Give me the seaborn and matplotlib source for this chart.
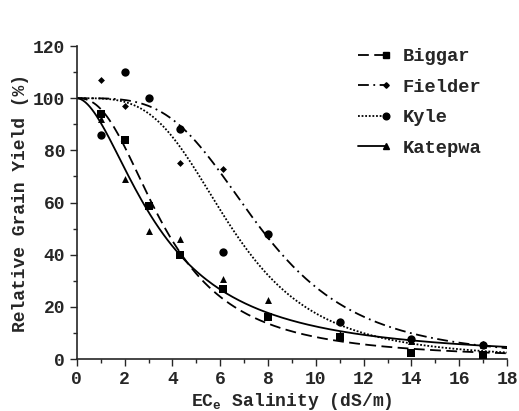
import matplotlib
matplotlib.use('Agg')
import matplotlib.pyplot as plt
from matplotlib.legend_handler import HandlerLine2D
from matplotlib.ticker import MultipleLocator
import numpy as np
import pandas as pd
import seaborn as sns

# measured points (ECe, relative yield %)
salinity = [1, 2, 3, 4.3, 6.1, 8, 11, 14, 17]
biggar = [94, 84, 58.5, 40, 27, 16, 8.5, 2.2, 1.5]
fielder = [107, 97, np.nan, 75, 73, 47, 14, 7.5, 5.7]
kyle = [86, 110, 100, 88, 41, 48, 14, 7.5, 5.5]
katepwa = [92, 69, 49, 46, 30.5, 22.5, 9.5, 7, 5.5]

cultivars = ['Biggar', 'Fielder', 'Kyle', 'Katepwa']
# fitted response curve parameters: y = 100 / (1 + (x / c50) ** p)
c50 = [3.7, 7.7, 6.5, 3.45]
slope = [2.4, 3.7, 3.6, 1.83]

markers = {'Biggar': 's', 'Fielder': 'D', 'Kyle': 'o', 'Katepwa': '^'}
marker_sizes = {'Biggar': 5.5, 'Fielder': 3.5, 'Kyle': 6, 'Katepwa': 5}
dashes = {'Biggar': (6, 3), 'Fielder': (6, 2.5, 1, 2.5), 'Kyle': (1, 1), 'Katepwa': ''}


class MarkerAtEnd(HandlerLine2D):
    # draw the legend line with its marker at the right end only
    def create_artists(self, legend, orig_handle, xdescent, ydescent,
                       width, height, fontsize, trans):
        artists = super().create_artists(legend, orig_handle, xdescent, ydescent,
                                         width, height, fontsize, trans)
        for a in artists:
            n = len(a.get_xdata())
            a.set_markevery([n - 1])
        return artists


def main():
    sns.set_style('ticks')
    plt.rcParams['font.family'] = ['Liberation Mono', 'DejaVu Sans']
    plt.rcParams['font.weight'] = 'bold'
    plt.rcParams['mathtext.fontset'] = 'custom'
    plt.rcParams['mathtext.rm'] = 'Liberation Mono:bold'
    plt.rcParams['mathtext.default'] = 'rm'

    points = pd.DataFrame({
        'salinity': salinity * 4,
        'yield': biggar + fielder + kyle + katepwa,
        'cultivar': [c for c in cultivars for _ in salinity],
    })

    xs = np.linspace(0, 18, 200)
    curves = pd.concat([
        pd.DataFrame({'salinity': xs,
                      'yield': 100 / (1 + (xs / c) ** p),
                      'cultivar': name})
        for name, c, p in zip(cultivars, c50, slope)
    ])

    fig = plt.figure(figsize=(5.19, 4.11), dpi=100)
    ax = fig.add_axes([0.148, 0.1265, 0.829, 0.7615])

    sns.lineplot(data=curves, x='salinity', y='yield', style='cultivar',
                 dashes=dashes, color='black', lw=1.3, legend=False, ax=ax)
    handles = []
    for name in cultivars:
        sub = points[points['cultivar'] == name]
        sns.scatterplot(data=sub, x='salinity', y='yield', marker=markers[name],
                        color='black', s=marker_sizes[name] ** 2, edgecolor='black',
                        linewidth=0, legend=False, ax=ax, zorder=3)
        h, = ax.plot([], [], color='black', lw=1.3, marker=markers[name],
                     ms=marker_sizes[name] * 0.8, label=name)
        if dashes[name]:
            h.set_dashes(dashes[name])
        handles.append(h)

    ax.set_xlim(0, 18)
    ax.set_ylim(0, 120)
    ax.xaxis.set_major_locator(MultipleLocator(2))
    ax.xaxis.set_minor_locator(MultipleLocator(1))
    ax.yaxis.set_major_locator(MultipleLocator(20))
    ax.yaxis.set_minor_locator(MultipleLocator(10))
    ax.tick_params(which='major', length=5, width=1, labelsize=13, direction='out')
    ax.tick_params(which='minor', length=3, width=1, direction='out')
    for s in ['top', 'right']:
        ax.spines[s].set_visible(False)
    for s in ['left', 'bottom']:
        ax.spines[s].set_linewidth(1.2)

    ax.set_xlabel('EC$_{e}$ Salinity (dS/m)', fontsize=13, fontweight='bold', labelpad=2)
    ax.set_ylabel('Relative Grain Yield (%)', fontsize=13, fontweight='bold', labelpad=3)

    ax.legend(handles=handles, loc='upper left', frameon=False, fontsize=13.5,
              handlelength=2.1, handletextpad=0.6, labelspacing=0.72,
              borderpad=0, borderaxespad=0,
              bbox_to_anchor=(352 / 519, 1 - 48 / 411), bbox_transform=fig.transFigure,
              handler_map={h: MarkerAtEnd(numpoints=2) for h in handles})

    fig.savefig('out.png', dpi=100)
    plt.close(fig)


if __name__ == '__main__':
    main()
